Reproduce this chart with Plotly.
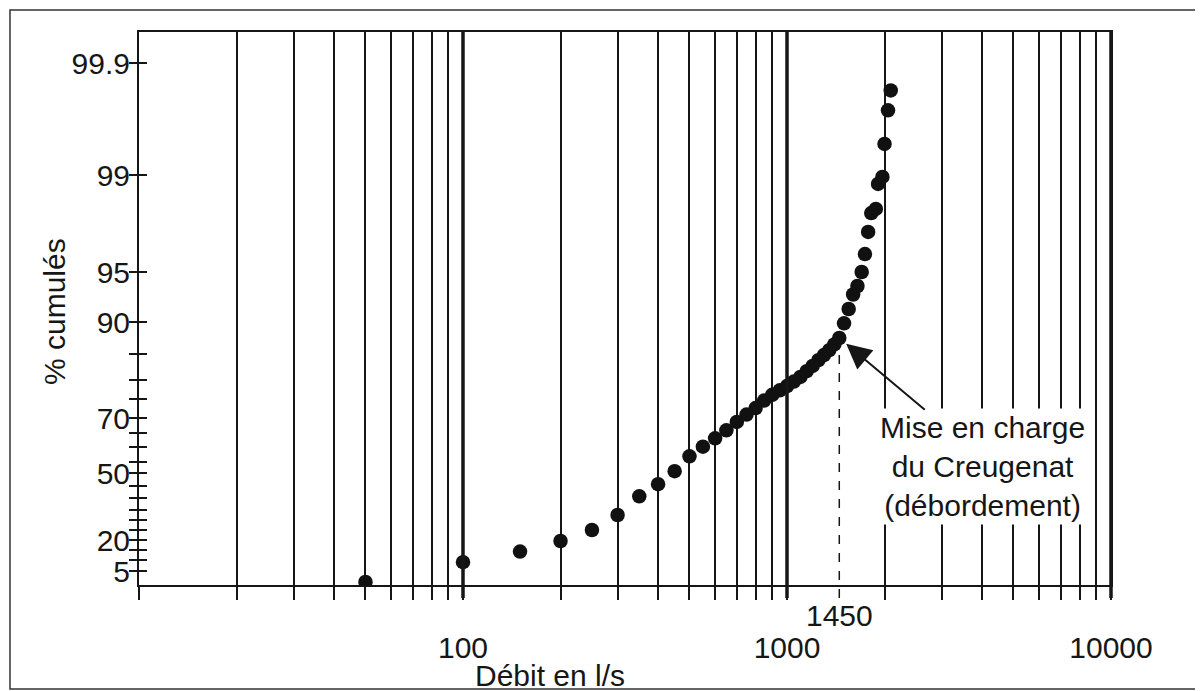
import numpy as np
import plotly.graph_objects as go

# ---------------- data ----------------
DEBIT = [50, 100, 150, 200, 250, 300, 350, 400, 450, 500,
         550, 600, 650, 700, 750, 800, 850, 900, 950, 1000,
         1050, 1100, 1150, 1200, 1250, 1300, 1350, 1400, 1450, 1500,
         1550, 1600, 1650, 1700, 1740, 1780, 1820, 1880, 1910, 1970,
         2000, 2050, 2090]
PCT_CUMUL = [1.1, 9.0, 14.2, 19.5, 25.0, 32.5, 40.7, 45.7, 50.8, 56.9,
             60.1, 63.1, 65.9, 68.7, 70.9, 72.6, 74.6, 76.1, 77.3, 78.4,
             79.6, 80.6, 81.7, 82.7, 83.8, 84.8, 85.6, 86.5, 87.5, 89.8,
             91.3, 92.75, 93.6, 95.0, 95.74, 96.65, 97.43, 97.60, 98.63, 98.92,
             99.25, 99.52, 99.68]

THRESHOLD = 1450

# probability-paper scale of the original chart (cumulative % -> scale units)
SCALE_PCT = [0, 5, 10, 15, 20, 25, 30, 35, 40, 45, 50, 55, 60, 65, 70,
             75, 80, 85, 90, 95, 99, 99.9]
SCALE_UNITS = [0, 14, 25, 35, 45, 55, 65, 75, 87, 99, 112, 123, 138, 152, 167,
               186, 205, 231, 263, 313, 410, 522]
SCALE_TOP = 553

Y_TICKS = [5, 10, 15, 20, 25, 30, 35, 40, 45, 50, 55, 60, 65, 70, 75, 80, 85, 90,
           95, 99, 99.9]
Y_LABELS = {5: "5", 20: "20", 50: "50", 70: "70", 90: "90", 95: "95", 99: "99",
            99.9: "99.9"}

X_TICKS = [10, 20, 30, 40, 50, 60, 70, 80, 90,
           100, 200, 300, 400, 500, 600, 700, 800, 900,
           1000, 2000, 3000, 4000, 5000, 6000, 7000, 8000, 9000, 10000]
X_LABELS = {100: "100", 1000: "1000", 10000: "10000"}
X_MAJOR = [100, 1000, 10000]
X_LOG_RANGE = [1, 4]

FONT = "Liberation Sans, Arial, Helvetica, sans-serif"
INK = "#161616"
FS = 30
PLOT_W = 972


def to_scale(p):
    return np.interp(p, SCALE_PCT, SCALE_UNITS)


def x_paper(v):
    return (np.log10(v) - X_LOG_RANGE[0]) / (X_LOG_RANGE[1] - X_LOG_RANGE[0])


y_tickvals = list(to_scale(Y_TICKS))
y_ticktext = [Y_LABELS.get(t, "") for t in Y_TICKS]
x_ticktext = [X_LABELS.get(t, "") for t in X_TICKS]

fig = go.Figure()
fig.add_trace(go.Scatter(
    x=DEBIT, y=to_scale(PCT_CUMUL), mode="markers",
    marker=dict(size=14.5, color="#111111", line=dict(width=0)),
    showlegend=False, hoverinfo="x+y"))
fig.add_trace(go.Scatter(x=[], y=[], yaxis="y2", showlegend=False))

axis_font = dict(family=FONT, size=FS, color=INK)

fig.update_layout(
    width=1203, height=691,
    margin=dict(l=131, r=100, t=24, b=114),
    paper_bgcolor="white", plot_bgcolor="white",
    showlegend=False,
    xaxis=dict(type="log", range=X_LOG_RANGE, tickvals=X_TICKS, ticktext=x_ticktext,
               ticks="outside", ticklen=13, tickwidth=2, tickcolor=INK,
               showgrid=True, gridcolor=INK, gridwidth=2,
               showline=True, linecolor=INK, linewidth=2, mirror=True,
               zeroline=False, tickfont=axis_font, ticklabelstandoff=22),
    yaxis=dict(range=[0, SCALE_TOP], tickvals=y_tickvals, ticktext=y_ticktext,
               ticks="outside", ticklen=8, tickwidth=2, tickcolor=INK,
               showgrid=False, showline=True, linecolor=INK, linewidth=2,
               mirror=True, zeroline=False, tickfont=axis_font,
               ticklabelstandoff=-7),
    yaxis2=dict(range=[0, SCALE_TOP], tickvals=y_tickvals, overlaying="y",
                side="left", anchor="x", ticks="inside", ticklen=8, tickwidth=2,
                tickcolor=INK, showticklabels=False, showgrid=False,
                showline=False, zeroline=False),
)

shapes = []
# heavy decade lines
for v in X_MAJOR:
    shapes.append(dict(type="line", xref="paper", yref="paper",
                       x0=x_paper(v), x1=x_paper(v), y0=-13 / SCALE_TOP, y1=1,
                       line=dict(color=INK, width=3.5)))
# dashed threshold line
p_thr = PCT_CUMUL[DEBIT.index(THRESHOLD)]
shapes.append(dict(type="line", xref="paper", yref="paper",
                   x0=x_paper(THRESHOLD), x1=x_paper(THRESHOLD),
                   y0=-13 / SCALE_TOP, y1=(to_scale(p_thr) - 9) / SCALE_TOP,
                   line=dict(color=INK, width=1.5, dash="dash")))
# outer frame
shapes.append(dict(type="rect", xref="paper", yref="paper",
                   x0=-129 / PLOT_W, x1=1057 / PLOT_W, y0=-104 / SCALE_TOP,
                   y1=575 / SCALE_TOP,
                   line=dict(color="#333333", width=1.5), fillcolor="rgba(0,0,0,0)"))
fig.update_layout(shapes=shapes)

txt_font = dict(family=FONT, size=FS, color=INK)
annotations = [
    dict(text="Mise en charge<br>du Creugenat<br>(débordement)",
         xref="paper", yref="paper", x=(982 - 139) / PLOT_W, y=(585 - 466) / SCALE_TOP,
         xanchor="center", yanchor="middle",
         showarrow=False, font=txt_font,
         bgcolor="white", borderpad=2, align="center"),
    dict(text="", xref="x", yref="y", x=np.log10(THRESHOLD), y=to_scale(p_thr),
         ax=87, ay=73, showarrow=True, arrowhead=2, arrowsize=2.5, arrowwidth=2,
         arrowcolor=INK, standoff=9),
    dict(text=str(THRESHOLD), xref="x", yref="paper", x=np.log10(THRESHOLD),
         y=-30 / SCALE_TOP, xanchor="center", yanchor="middle", showarrow=False,
         font=txt_font),
    dict(text="Débit en l/s", xref="paper", yref="paper",
         x=(550 - 139) / PLOT_W, y=(585 - 675) / SCALE_TOP,
         xanchor="center", yanchor="middle", showarrow=False, font=txt_font),
    dict(text="% cumulés", xref="paper", yref="paper",
         x=(54 - 139) / PLOT_W, y=(585 - 312) / SCALE_TOP,
         xanchor="center", yanchor="middle",
         textangle=-90, showarrow=False, font=txt_font),
]
fig.update_layout(annotations=annotations)

fig.write_html("out.html")
